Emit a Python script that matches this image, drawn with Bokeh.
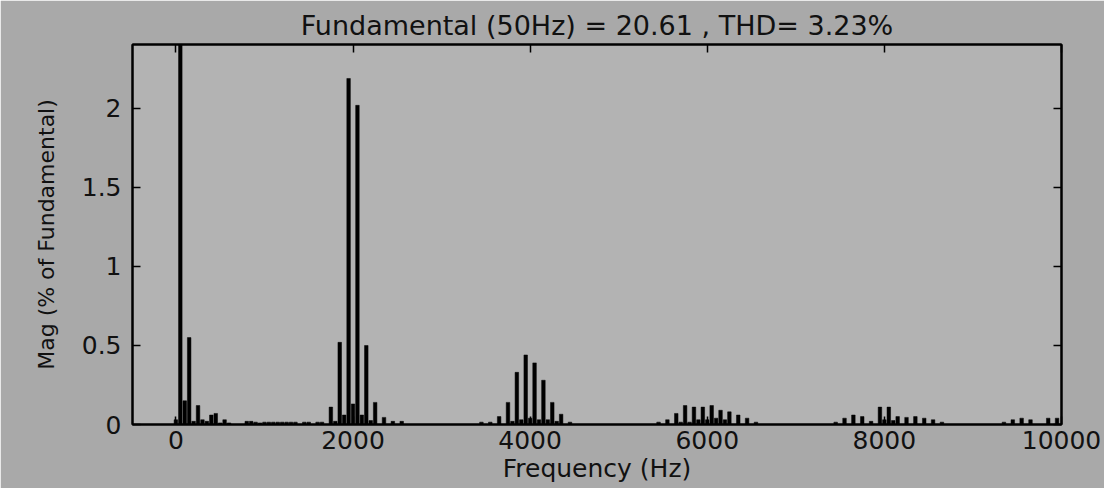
from bokeh.plotting import figure
from bokeh.models import LinearAxis, FixedTicker, Range1d, ColumnDataSource
from bokeh.embed import file_html
from bokeh.resources import INLINE

# ---- data ----
freqs = [0, 50, 100, 150, 200, 250, 300, 350, 400, 450, 500, 550, 600,
         800, 850, 900, 950, 1000, 1050, 1100, 1150, 1200, 1250, 1300, 1350,
         1450, 1500, 1600, 1650,
         1750, 1800, 1850, 1900, 1950, 2000, 2050, 2100, 2150, 2200, 2250,
         2350, 2450, 2550,
         3450, 3550, 3650, 3750, 3800, 3850, 3900, 3950, 4000, 4050, 4100,
         4150, 4200, 4250, 4300, 4350, 4450,
         5450, 5550, 5650, 5700, 5750, 5800, 5850, 5900, 5950, 6000, 6050,
         6100, 6150, 6200, 6250, 6350, 6450, 6550,
         7450, 7550, 7650, 7750, 7850, 7950, 8000, 8050, 8100, 8150, 8250,
         8350, 8450, 8550, 8650,
         9350, 9450, 9550, 9650, 9850, 9950]
mags = [0.03, 100.0, 0.15, 0.55, 0.02, 0.12, 0.03, 0.02, 0.06, 0.07, 0.01, 0.03, 0.01,
        0.02, 0.02, 0.015, 0.01, 0.015, 0.015, 0.015, 0.015, 0.015, 0.015, 0.015, 0.015,
        0.015, 0.015, 0.015, 0.015,
        0.11, 0.02, 0.52, 0.06, 2.19, 0.13, 2.02, 0.06, 0.50, 0.025, 0.14,
        0.045, 0.02, 0.02,
        0.015, 0.015, 0.05, 0.14, 0.02, 0.33, 0.03, 0.44, 0.04, 0.39, 0.03,
        0.28, 0.03, 0.14, 0.02, 0.065, 0.015,
        0.015, 0.03, 0.07, 0.015, 0.12, 0.015, 0.11, 0.03, 0.11, 0.03, 0.12,
        0.04, 0.09, 0.03, 0.08, 0.06, 0.04, 0.015,
        0.015, 0.04, 0.06, 0.05, 0.02, 0.11, 0.03, 0.11, 0.025, 0.05, 0.045,
        0.05, 0.04, 0.03, 0.015,
        0.015, 0.03, 0.04, 0.03, 0.04, 0.04]

x_ticks = [0, 2000, 4000, 6000, 8000, 10000]
x_tick_labels = ["0", "2000", "4000", "6000", "8000", "10000"]
y_ticks = [0, 0.5, 1, 1.5, 2]
y_tick_labels = ["0", "0.5", "1", "1.5", "2"]

title_text = "Fundamental (50Hz) = 20.61 , THD= 3.23%"
x_label = "Frequency (Hz)"
y_label = "Mag (% of Fundamental)"

FONT = "DejaVu Sans"

p = figure(width=1104, height=488,
           x_range=Range1d(-490, 10000), y_range=Range1d(0, 2.405),
           output_backend="svg", toolbar_location=None,
           min_border_left=132, min_border_right=43,
           min_border_top=44, min_border_bottom=64,
           background_fill_color="#b3b3b3", border_fill_color="#a9a9a9",
           title=title_text)

p.title.align = "center"
p.title.text_font = FONT
p.title.text_font_size = "27px"
p.title.text_font_style = "normal"
p.title.text_color = "#111111"
p.title.standoff = 8

p.xgrid.visible = False
p.ygrid.visible = False
p.outline_line_color = "black"
p.outline_line_width = 2

src = ColumnDataSource(data=dict(f=freqs, m=mags))
p.vbar(x="f", top="m", width=40, bottom=0, source=src,
       fill_color="black", line_color="black", line_width=0.5)

def style_axis(ax, ticks, labels, show_labels=True):
    ax.ticker = FixedTicker(ticks=ticks)
    ax.major_label_overrides = {t: l for t, l in zip(ticks, labels)}
    ax.minor_tick_line_color = None
    ax.major_tick_in = 8
    ax.major_tick_out = 0
    ax.major_tick_line_width = 1.5
    ax.major_tick_line_color = "black"
    ax.axis_line_width = 2
    ax.axis_line_color = "black"
    ax.major_label_text_font = FONT
    ax.major_label_text_color = "#111111"
    if show_labels:
        ax.major_label_text_font_size = "25px"
    else:
        ax.major_label_text_font_size = "0px"
        ax.major_label_standoff = 0

xa = p.xaxis[0]
style_axis(xa, x_ticks, x_tick_labels)
xa.major_label_standoff = 6
xa.axis_label = x_label
xa.axis_label_text_font = FONT
xa.axis_label_text_font_size = "25px"
xa.axis_label_text_font_style = "normal"
xa.axis_label_text_color = "#111111"
xa.axis_label_standoff = 2

ya = p.yaxis[0]
style_axis(ya, y_ticks, y_tick_labels)
ya.major_label_standoff = 11
ya.axis_label = y_label
ya.axis_label_text_font = FONT
ya.axis_label_text_font_size = "22px"
ya.axis_label_text_font_style = "normal"
ya.axis_label_text_color = "#111111"
ya.axis_label_standoff = 20

top_ax = LinearAxis()
style_axis(top_ax, x_ticks, x_tick_labels, show_labels=False)
p.add_layout(top_ax, "above")
right_ax = LinearAxis()
style_axis(right_ax, y_ticks, y_tick_labels, show_labels=False)
p.add_layout(right_ax, "right")

open("out.html", "w").write(file_html(p, INLINE))
